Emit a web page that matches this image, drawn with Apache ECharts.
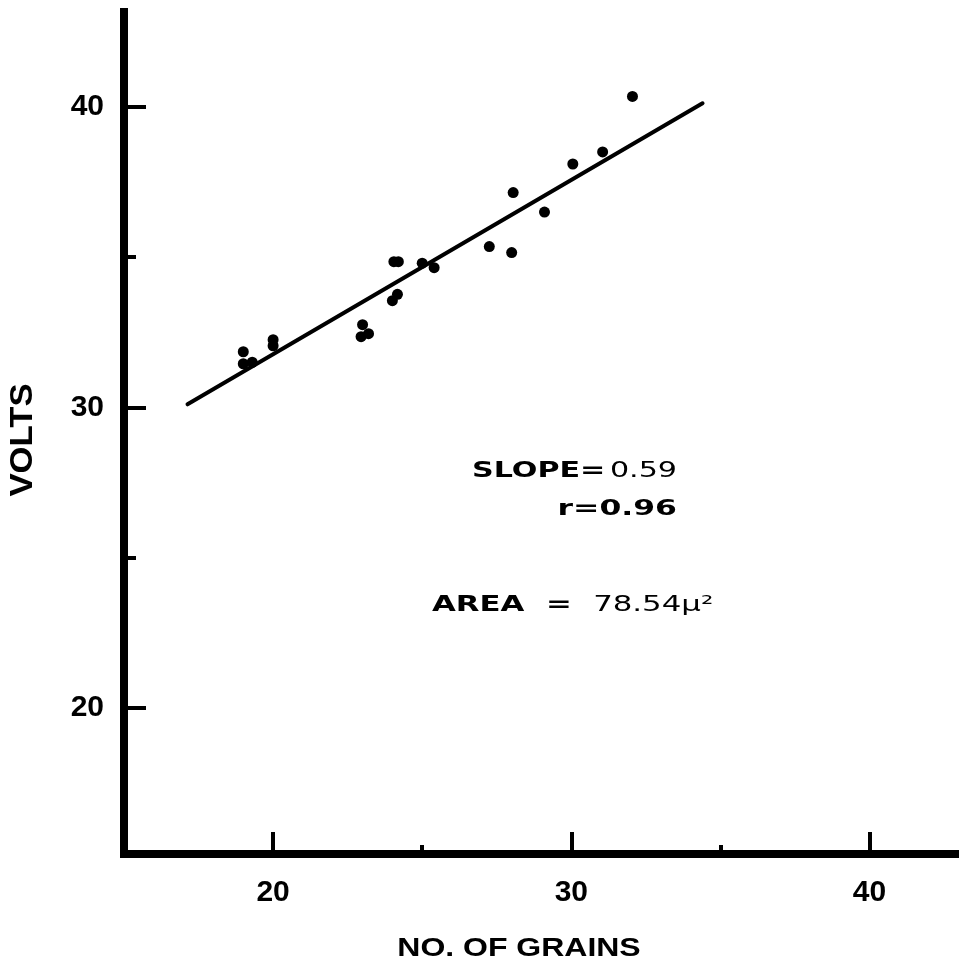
<!DOCTYPE html>
<html><head><meta charset="utf-8">
<script src="https://cdn.jsdelivr.net/npm/echarts@6/dist/echarts.min.js"></script>
<style>html,body{margin:0;padding:0;background:#fff}#c{width:959px;height:966px}</style>
</head><body><div id="c"></div>
<script>
// ---- data ----
const grains = [19.0, 19.0, 19.3, 20.0, 20.0, 23.0, 22.95, 23.2, 24.05, 24.2, 25.0, 25.4, 24.0, 24.17, 27.25, 28.0, 28.05, 29.1, 30.05, 31.05, 32.05];
const volts  = [31.85, 31.45, 31.5, 32.25, 32.05, 32.75, 32.35, 32.45, 34.85, 34.85, 34.8, 34.65, 33.55, 33.76, 35.35, 35.15, 37.15, 36.5, 38.1, 38.5, 40.35];
const fitGrains = [17.13, 34.4];
const fitVolts  = [30.1, 40.12];
const xMajorTicks = [20, 30, 40];
const xMinorTicks = [25, 35];
const yMajorTicks = [20, 30, 40];
const yMinorTicks = [25, 35];
const xName = 'NO. OF GRAINS';
const yName = 'VOLTS';
const slopeLabel = 'SLOPE=';
const slopeValue = '0.59';
const rLabel = 'r=0.96';
const areaLabel = 'AREA  =  ';
const areaValue = '78.54μ²';

const BLACK = '#000';
const tickFont = {color: BLACK, fontFamily: 'Liberation Sans', fontWeight: 'bold', fontSize: 30};
const lineAxis = {show: true, onZero: false, lineStyle: {color: BLACK, width: 8, cap: 'square'}};

const chart = echarts.init(document.getElementById('c'), null, {renderer: 'canvas'});
chart.setOption({
  animation: false,
  backgroundColor: '#fff',
  grid: {left: 124, top: 12, width: 837, height: 842, containLabel: false},
  xAxis: [
    {type: 'value', min: 15, max: 43, position: 'bottom', axisLine: lineAxis,
     axisTick: {show: true, inside: true, length: 22, customValues: xMajorTicks, lineStyle: {color: BLACK, width: 4}},
     axisLabel: Object.assign({customValues: xMajorTicks, margin: 24}, tickFont),
     splitLine: {show: false}},
    {type: 'value', min: 15, max: 43, position: 'bottom', axisLine: {show: false},
     axisTick: {show: true, inside: true, length: 9, customValues: xMinorTicks, lineStyle: {color: BLACK, width: 4}},
     axisLabel: {show: false}, splitLine: {show: false}}
  ],
  yAxis: [
    {type: 'value', min: 15.13, max: 43.16, position: 'left', axisLine: lineAxis,
     axisTick: {show: true, inside: true, length: 22, customValues: yMajorTicks, lineStyle: {color: BLACK, width: 4}},
     axisLabel: Object.assign({customValues: yMajorTicks, margin: 20}, tickFont),
     splitLine: {show: false}},
    {type: 'value', min: 15.13, max: 43.16, position: 'left', axisLine: {show: false},
     axisTick: {show: true, inside: true, length: 12, customValues: yMinorTicks, lineStyle: {color: BLACK, width: 4}},
     axisLabel: {show: false}, splitLine: {show: false}}
  ],
  series: [
    {type: 'line', xAxisIndex: 0, yAxisIndex: 0, data: fitGrains.map((g, i) => [g, fitVolts[i]]),
     showSymbol: false, symbol: 'none', lineStyle: {color: BLACK, width: 4, cap: 'round'}, z: 2},
    {type: 'scatter', xAxisIndex: 0, yAxisIndex: 0, data: grains.map((g, i) => [g, volts[i]]),
     symbol: 'circle', symbolSize: 11, itemStyle: {color: BLACK, opacity: 1}, z: 3}
  ],
  graphic: [
    {type: 'text', x: 23, y: 440, rotation: Math.PI / 2, scaleX: 1.12,
     style: {text: yName, font: 'bold 31px "Liberation Sans"', fill: BLACK, align: 'center', verticalAlign: 'middle', textAlign: 'center', textVerticalAlign: 'middle'}},
    {type: 'text', x: 519, y: 949, scaleX: 1.23,
     style: {text: xName, font: 'bold 26px "Liberation Sans"', fill: BLACK, align: 'center', verticalAlign: 'middle', textAlign: 'center', textVerticalAlign: 'middle'}},
    {type: 'text', x: 677, y: 471, scaleX: 1.37,
     style: {text: '{b|' + slopeLabel + '} {n|' + slopeValue + '}', align: 'right', verticalAlign: 'middle', textAlign: 'right', textVerticalAlign: 'middle',
       rich: {b: {fontFamily: 'DejaVu Sans', fontWeight: 'bold', fontSize: 22, fill: BLACK}, n: {fontFamily: 'DejaVu Sans', fontSize: 22, fill: BLACK}}}},
    {type: 'text', x: 677, y: 509, scaleX: 1.43,
     style: {text: rLabel, font: 'bold 22px "DejaVu Sans"', fill: BLACK, align: 'right', verticalAlign: 'middle', textAlign: 'right', textVerticalAlign: 'middle'}},
    {type: 'text', x: 432, y: 605, scaleX: 1.4,
     style: {text: '{b|' + areaLabel + '}{n|' + areaValue + '}', align: 'left', verticalAlign: 'middle', textAlign: 'left', textVerticalAlign: 'middle',
       rich: {b: {fontFamily: 'DejaVu Sans', fontWeight: 'bold', fontSize: 22, fill: BLACK}, n: {fontFamily: 'DejaVu Sans', fontSize: 22, fill: BLACK}}}}
  ]
});
</script>
</body></html>
